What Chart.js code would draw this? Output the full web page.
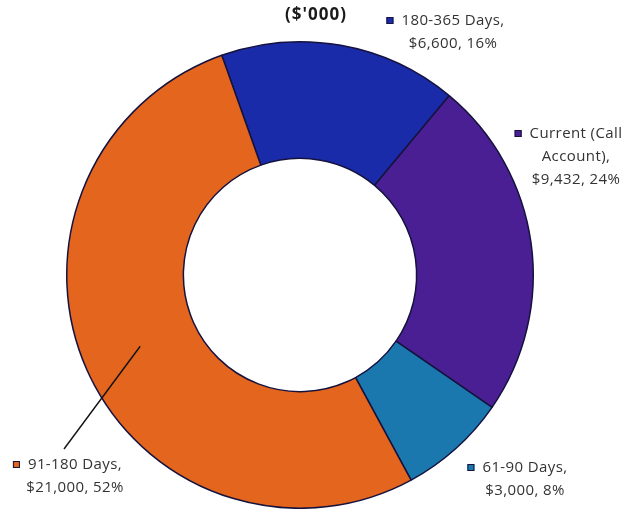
<!DOCTYPE html>
<html>
<head>
<meta charset="utf-8">
<script src="https://cdn.jsdelivr.net/npm/chart.js@4.4.1/dist/chart.umd.min.js"></script>
<style>
  html, body { margin: 0; padding: 0; background: #ffffff; }
  #wrap { width: 626px; height: 509px; position: relative; }
</style>
</head>
<body>
<div id="wrap"><canvas id="c" width="626" height="509"></canvas></div>
<script>
// Deposit maturity profile ($'000)
const categories = ['180-365 Days', 'Current (Call Account)', '61-90 Days', '91-180 Days'];
const amounts = [6600, 9432, 3000, 21000];
const shares = [16, 24, 8, 52];
const sliceColors = ['#1a2ba9', '#4a1f94', '#1a78ae', '#e4651d'];
const titleText = "($'000)";

// label placement: centre x of the text block, y of the first line, wrap width
const labelSpots = [
  { cx: 453, y: 21, wrap: 140 },
  { cx: 576, y: 134, wrap: 112 },
  { cx: 525, y: 468, wrap: 140 },
  { cx: 75, y: 465, wrap: 140, leaderTo: { x: 64, y: 449 } }
];

const LABEL_FONT = '15px "Open Sans", "Liberation Sans", sans-serif';
const LINE_H = 23;

function wrapWords(ctx, text, maxW) {
  const words = text.split(' ');
  const lines = [];
  let cur = '';
  for (const w of words) {
    const t = cur ? cur + ' ' + w : w;
    if (ctx.measureText(t).width > maxW && cur) { lines.push(cur); cur = w; }
    else cur = t;
  }
  if (cur) lines.push(cur);
  return lines;
}

const sliceLabels = {
  id: 'sliceLabels',
  afterDraw(chart) {
    const ctx = chart.ctx;
    const meta = chart.getDatasetMeta(0);
    ctx.save();

    // title
    ctx.font = 'bold 17px "Open Sans", "Liberation Sans", sans-serif';
    ctx.letterSpacing = '1px';
    ctx.fillStyle = '#1a1a1a';
    ctx.textAlign = 'center';
    ctx.textBaseline = 'middle';
    ctx.fillText(titleText, 316, 15);

    ctx.font = LABEL_FONT;
    ctx.letterSpacing = '0.4px';
    categories.forEach((name, i) => {
      const spot = labelSpots[i];
      const valueLine = '$' + amounts[i].toLocaleString('en-US') + ', ' + shares[i] + '%';
      const lines = wrapWords(ctx, name + ',', spot.wrap);
      lines.push(valueLine);

      // leader line from the slice centroid
      if (spot.leaderTo) {
        const pos = meta.data[i].tooltipPosition();
        ctx.strokeStyle = '#111111';
        ctx.lineWidth = 1.4;
        ctx.beginPath();
        ctx.moveTo(pos.x, pos.y);
        ctx.lineTo(spot.leaderTo.x, spot.leaderTo.y);
        ctx.stroke();
      }

      ctx.fillStyle = '#333333';
      ctx.textAlign = 'center';
      ctx.textBaseline = 'middle';
      lines.forEach((ln, k) => ctx.fillText(ln, spot.cx, spot.y + k * LINE_H));

      // legend key square before the first line
      const w0 = ctx.measureText(lines[0]).width;
      const kx = spot.cx - w0 / 2 - 15;
      ctx.fillStyle = sliceColors[i];
      ctx.fillRect(kx, spot.y - 4, 7, 7);
      ctx.strokeStyle = '#14143c';
      ctx.lineWidth = 1;
      ctx.strokeRect(kx + 0.5, spot.y - 3.5, 6, 6);
    });
    ctx.restore();
  }
};

new Chart(document.getElementById('c'), {
  type: 'doughnut',
  data: {
    labels: categories,
    datasets: [{
      data: amounts,
      backgroundColor: sliceColors,
      borderColor: '#15123e',
      borderWidth: 1.5,
      borderAlign: 'center'
    }]
  },
  options: {
    responsive: false,
    animation: false,
    cutout: '50%',
    rotation: -19.6,
    layout: { padding: { left: 66, right: 92, top: 41, bottom: 0 } },
    plugins: {
      legend: { display: false },
      tooltip: { enabled: false },
      title: { display: false }
    }
  },
  plugins: [sliceLabels]
});
</script>
</body>
</html>
